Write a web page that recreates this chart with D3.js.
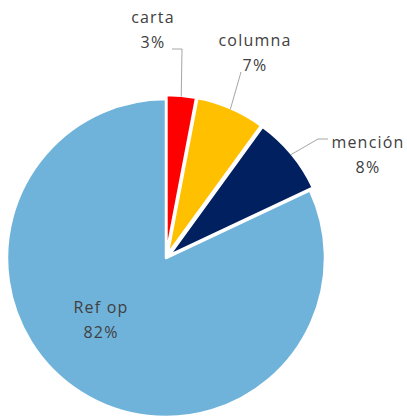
<!DOCTYPE html>
<html lang="es">
<head>
<meta charset="UTF-8">
<title>Pie</title>
<script src="https://d3js.org/d3.v7.min.js"></script>
<style>
    body { margin: 0; background: #fff; }
    svg { display: block; }
    .lbl { font-family: "Open Sans", "Noto Sans", sans-serif; font-size: 16px; fill: #404040; letter-spacing: 1.2px; }
    .leader { stroke: #a6a6a6; stroke-width: 1; fill: none; }
</style>
</head>
<body>
<div id="chart"></div>
<script>
    // data
    const categories = ["carta", "columna", "mención", "Ref op"];
    const values = [3, 7, 8, 82];
    const colors = ["#ff0000", "#ffc000", "#002060", "#70b3da"];
    const exploded = [true, true, true, false];

    const width = 407, height = 417;
    const cx = 166, cy = 258, radius = 159;

    // label anchor (relative to centre) and leader elbow for the outside labels
    const labelLayout = {
        "carta":   { x: -13, y: -235, elbow: [16, -209], end: [6, -209] },
        "columna": { x: 89,  y: -212, elbow: null, end: [75, -186] },
        "mención": { x: 202, y: -110, elbow: [152, -119], end: [162, -119] },
        "Ref op":  { x: -65, y: 55 }
    };

    const svg = d3.select("#chart").append("svg")
        .attr("width", width)
        .attr("height", height);

    const g = svg.append("g").attr("transform", `translate(${cx},${cy})`);

    const pie = d3.pie().sort(null).value(d => d.value);
    const arcs = pie(categories.map((c, i) => ({ name: c, value: values[i], i })));

    const arc = d3.arc().innerRadius(0).outerRadius(radius);
    const explode = 4;

    function offset(d) {
        if (!exploded[d.data.i]) return [0, 0];
        const a = (d.startAngle + d.endAngle) / 2;
        return [Math.sin(a) * explode, -Math.cos(a) * explode];
    }

    g.selectAll("path.slice")
        .data(arcs)
        .join("path")
        .attr("class", "slice")
        .attr("d", arc)
        .attr("transform", d => `translate(${offset(d)})`)
        .attr("fill", d => colors[d.data.i])
        .attr("stroke", "#fff")
        .attr("stroke-width", 2.5)
        .attr("stroke-linejoin", "round");

    // leader lines
    const outside = arcs.filter(d => labelLayout[d.data.name].end);
    g.selectAll("path.leader")
        .data(outside)
        .join("path")
        .attr("class", "leader")
        .attr("d", d => {
            const a = (d.startAngle + d.endAngle) / 2;
            const o = offset(d);
            const r = radius - 1;
            const p0 = [Math.sin(a) * r + o[0], -Math.cos(a) * r + o[1]];
            const L = labelLayout[d.data.name];
            const pts = [p0];
            if (L.elbow) pts.push(L.elbow);
            pts.push(L.end);
            return d3.line()(pts);
        });

    // labels
    const lab = g.selectAll("text.lbl")
        .data(arcs)
        .join("text")
        .attr("class", "lbl")
        .attr("text-anchor", "middle")
        .attr("transform", d => {
            const L = labelLayout[d.data.name];
            return `translate(${L.x},${L.y})`;
        });
    lab.append("tspan").attr("x", 0).attr("dy", 0).text(d => d.data.name);
    lab.append("tspan").attr("x", 0).attr("dy", 25).text(d => d.data.value + "%");
</script>
</body>
</html>
